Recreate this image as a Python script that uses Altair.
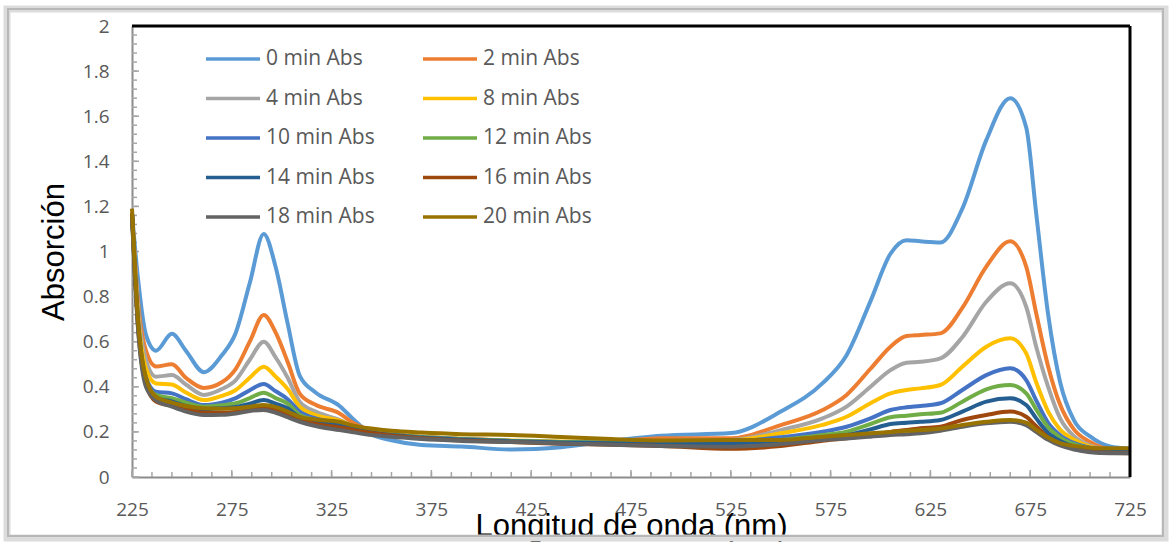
import altair as alt
import pandas as pd

# ---------------- data ----------------
wavelength = [225, 228, 232, 237, 245, 252, 261, 270, 277, 284, 291, 297, 303, 309, 317,
              329, 336, 345, 355, 370, 390, 415, 440, 465, 490, 525, 550, 571, 583, 595,
              605, 613, 620, 630, 641, 653, 665, 673, 678, 684, 690, 697, 705, 715, 725]

abs_0 = [1.17, 0.88, 0.63, 0.56, 0.635, 0.56, 0.465, 0.54, 0.64, 0.86, 1.078, 0.93, 0.68, 0.45, 0.375,
         0.315, 0.255, 0.19, 0.163, 0.142, 0.135, 0.122, 0.132, 0.16, 0.183, 0.195, 0.29, 0.416, 0.54, 0.78,
         0.99, 1.05, 1.045, 1.04, 1.19, 1.494, 1.68, 1.55, 1.17, 0.72, 0.42, 0.25, 0.18, 0.135, 0.125]
abs_2 = [1.17, 0.78, 0.56, 0.49, 0.50, 0.44, 0.395, 0.42, 0.48, 0.60, 0.718, 0.64, 0.51, 0.37, 0.32,
         0.282, 0.238, 0.205, 0.19, 0.178, 0.168, 0.16, 0.155, 0.158, 0.172, 0.172, 0.23, 0.297, 0.364, 0.48,
         0.578, 0.625, 0.63, 0.637, 0.75, 0.933, 1.045, 0.933, 0.726, 0.49, 0.32, 0.21, 0.155, 0.122, 0.115]
abs_4 = [1.17, 0.75, 0.52, 0.445, 0.452, 0.41, 0.364, 0.39, 0.43, 0.52, 0.60, 0.53, 0.44, 0.334, 0.29,
         0.253, 0.225, 0.205, 0.19, 0.178, 0.168, 0.16, 0.155, 0.155, 0.16, 0.164, 0.208, 0.26, 0.312, 0.40,
         0.474, 0.507, 0.511, 0.526, 0.62, 0.777, 0.859, 0.755, 0.578, 0.40, 0.26, 0.18, 0.14, 0.12, 0.115]
abs_8 = [1.17, 0.72, 0.48, 0.415, 0.41, 0.375, 0.341, 0.36, 0.386, 0.44, 0.489, 0.445, 0.39, 0.312, 0.275,
         0.25, 0.225, 0.205, 0.19, 0.178, 0.17, 0.162, 0.157, 0.155, 0.155, 0.161, 0.194, 0.231, 0.267, 0.327,
         0.371, 0.386, 0.393, 0.408, 0.489, 0.578, 0.615, 0.548, 0.42, 0.29, 0.21, 0.165, 0.135, 0.12, 0.115]
abs_10 = [1.17, 0.70, 0.44, 0.378, 0.371, 0.345, 0.319, 0.33, 0.35, 0.385, 0.412, 0.38, 0.345, 0.29, 0.26,
          0.24, 0.22, 0.2, 0.188, 0.177, 0.168, 0.16, 0.155, 0.153, 0.152, 0.157, 0.176, 0.201, 0.223, 0.26,
          0.297, 0.309, 0.315, 0.327, 0.386, 0.452, 0.482, 0.43, 0.34, 0.24, 0.185, 0.15, 0.13, 0.118, 0.115]
abs_12 = [1.17, 0.69, 0.43, 0.364, 0.349, 0.33, 0.312, 0.318, 0.327, 0.35, 0.374, 0.35, 0.325, 0.275, 0.253,
          0.235, 0.218, 0.2, 0.187, 0.176, 0.167, 0.16, 0.155, 0.152, 0.15, 0.152, 0.164, 0.186, 0.201, 0.235,
          0.265, 0.272, 0.278, 0.285, 0.334, 0.389, 0.408, 0.371, 0.30, 0.22, 0.175, 0.145, 0.128, 0.117, 0.115]
abs_14 = [1.17, 0.68, 0.42, 0.35, 0.335, 0.315, 0.30, 0.305, 0.31, 0.325, 0.341, 0.325, 0.305, 0.265, 0.245,
          0.228, 0.213, 0.198, 0.186, 0.175, 0.166, 0.158, 0.153, 0.15, 0.148, 0.149, 0.16, 0.176, 0.186, 0.211,
          0.235, 0.241, 0.245, 0.253, 0.29, 0.334, 0.349, 0.319, 0.26, 0.195, 0.16, 0.135, 0.122, 0.115, 0.113]
abs_16 = [1.17, 0.67, 0.41, 0.335, 0.315, 0.298, 0.285, 0.285, 0.288, 0.298, 0.31, 0.30, 0.28, 0.255, 0.235,
          0.22, 0.208, 0.195, 0.184, 0.172, 0.162, 0.155, 0.148, 0.143, 0.138, 0.125, 0.137, 0.161, 0.172, 0.186,
          0.20, 0.208, 0.216, 0.223, 0.253, 0.275, 0.29, 0.267, 0.225, 0.175, 0.145, 0.125, 0.112, 0.107, 0.105]
abs_18 = [1.15, 0.66, 0.40, 0.341, 0.312, 0.29, 0.275, 0.276, 0.282, 0.293, 0.297, 0.285, 0.265, 0.245, 0.226,
          0.208, 0.198, 0.186, 0.179, 0.168, 0.16, 0.155, 0.149, 0.143, 0.137, 0.134, 0.146, 0.164, 0.171, 0.179,
          0.186, 0.19, 0.194, 0.205, 0.223, 0.238, 0.245, 0.23, 0.20, 0.165, 0.14, 0.122, 0.11, 0.105, 0.105]
abs_20 = [1.19, 0.70, 0.44, 0.356, 0.33, 0.315, 0.305, 0.303, 0.305, 0.312, 0.319, 0.31, 0.29, 0.267, 0.255,
          0.245, 0.228, 0.215, 0.205, 0.197, 0.19, 0.186, 0.177, 0.168, 0.162, 0.164, 0.164, 0.179, 0.186, 0.194,
          0.20, 0.205, 0.208, 0.215, 0.231, 0.245, 0.253, 0.241, 0.21, 0.175, 0.15, 0.138, 0.13, 0.127, 0.127]

series_names = ["0 min Abs", "2 min Abs", "4 min Abs", "8 min Abs", "10 min Abs",
                "12 min Abs", "14 min Abs", "16 min Abs", "18 min Abs", "20 min Abs"]
series_values = [abs_0, abs_2, abs_4, abs_8, abs_10, abs_12, abs_14, abs_16, abs_18, abs_20]
series_colors = ["#5B9BD5", "#ED7D31", "#A5A5A5", "#FFC000", "#4472C4",
                 "#70AD47", "#255E91", "#9E480E", "#636363", "#997300"]

x_labels = [225, 275, 325, 375, 425, 475, 525, 575, 625, 675, 725]
y_labels = [0, 0.2, 0.4, 0.6, 0.8, 1, 1.2, 1.4, 1.6, 1.8, 2]
x_minor = list(range(225, 726, 10))
y_minor = [round(i * 0.04, 2) for i in range(51)]

rows = []
for k, (name, vals) in enumerate(zip(series_names, series_values)):
    assert len(vals) == len(wavelength), name
    for w, v in zip(wavelength, vals):
        rows.append({"wl": w, "ab": v, "serie": name, "k": k})
df = pd.DataFrame(rows)

# legend grid fills column by column: reorder so it reads row by row (0,2 / 4,8 / ...)
legend_order = series_names[0::2] + series_names[1::2]
legend_colors = series_colors[0::2] + series_colors[1::2]

W, H = 998, 451

x_scale = alt.Scale(domain=[225, 725], nice=False, zero=False)
y_scale = alt.Scale(domain=[0, 2], nice=False)

x_axis = alt.Axis(values=x_labels, ticks=False, tickSize=0, grid=False, labelFlush=False,
                  labelFont="Open Sans", labelFontSize=19, labelColor="#595959",
                  labelBaseline="alphabetic", labelPadding=38,
                  domainColor="#8c8c8c", domainWidth=2,
                  title="Longitud de onda (nm)", titleFont="Liberation Sans", titleFontSize=31,
                  titleFontWeight="normal", titleColor="#000000",
                  titleY=58, titleBaseline="alphabetic")
y_axis = alt.Axis(values=y_labels, ticks=False, tickSize=0, grid=False, format=".1~f",
                  labelFont="Open Sans", labelFontSize=19, labelColor="#595959",
                  labelPadding=23,
                  domainColor="#8c8c8c", domainWidth=2,
                  title="Absorción", titleFont="Liberation Sans", titleFontSize=31,
                  titleFontWeight="normal", titleColor="#000000",
                  titleX=-78, titleAngle=270, titleAlign="center", titleBaseline="middle")

x_enc = alt.X("wl:Q", scale=x_scale, axis=x_axis)
y_enc = alt.Y("ab:Q", scale=y_scale, axis=y_axis)

one = alt.Data(values=[{"a": 1}])

frame_outer = alt.Chart(one).mark_rect(fillOpacity=0, stroke="#dcdcdc", strokeWidth=7).encode(
    x=alt.value(-125), x2=alt.value(1033), y=alt.value(-17), y2=alt.value(512)
)
frame_inner = alt.Chart(one).mark_rect(fillOpacity=0, stroke="#b8b8b8", strokeWidth=2).encode(
    x=alt.value(-124), x2=alt.value(1031), y=alt.value(-17), y2=alt.value(510)
)

lines = alt.Chart(df).mark_line(strokeWidth=4, interpolate="monotone").encode(
    x=x_enc,
    y=y_enc,
    color=alt.Color("serie:N",
                    scale=alt.Scale(domain=legend_order, range=legend_colors),
                    legend=alt.Legend(title=None, orient="none", legendX=72, legendY=22,
                                      columns=2, columnPadding=46, rowPadding=17.5,
                                      clipHeight=22, padding=0,
                                      symbolType="stroke", symbolSize=2916, symbolStrokeWidth=3.5,
                                      labelFont="Open Sans", labelFontSize=21, labelColor="#595959",
                                      labelOffset=4)),
    detail=alt.Detail("k:O"),
    order=alt.Order("wl:Q"),
)

top_rule = alt.Chart(one).mark_rule(color="#000000", strokeWidth=3).encode(
    x=alt.value(0), x2=alt.value(W), y=alt.value(0)
)
right_rule = alt.Chart(one).mark_rule(color="#000000", strokeWidth=3).encode(
    x=alt.value(W), y=alt.value(0), y2=alt.value(H)
)

xminor_df = pd.DataFrame({"wl": x_minor})
xmajor_df = pd.DataFrame({"wl": x_labels})
yminor_df = pd.DataFrame({"ab": y_minor})
ymajor_df = pd.DataFrame({"ab": y_labels})

xt_minor = alt.Chart(xminor_df).mark_rule(color="#a6a6a6", strokeWidth=1.5).encode(
    x=x_enc, y=alt.value(H), y2=alt.value(H - 5))
xt_major = alt.Chart(xmajor_df).mark_rule(color="#a6a6a6", strokeWidth=1.5).encode(
    x=x_enc, y=alt.value(H), y2=alt.value(H - 7))
yt_minor = alt.Chart(yminor_df).mark_rule(color="#a6a6a6", strokeWidth=1.5).encode(
    y=y_enc, x=alt.value(0), x2=alt.value(5))
yt_major = alt.Chart(ymajor_df).mark_rule(color="#a6a6a6", strokeWidth=1.5).encode(
    y=y_enc, x=alt.value(0), x2=alt.value(7))

chart = alt.layer(frame_outer, frame_inner, xt_minor, xt_major, yt_minor, yt_major,
                  lines, top_rule, right_rule).properties(
    width=W, height=H,
    autosize=alt.AutoSizeParams(type="none"),
    padding={"left": 132, "top": 26, "right": 41, "bottom": 65},
    background="#ffffff",
).configure_view(stroke=None)

chart.save("out.html", embed_options={"renderer": "svg", "actions": False})
